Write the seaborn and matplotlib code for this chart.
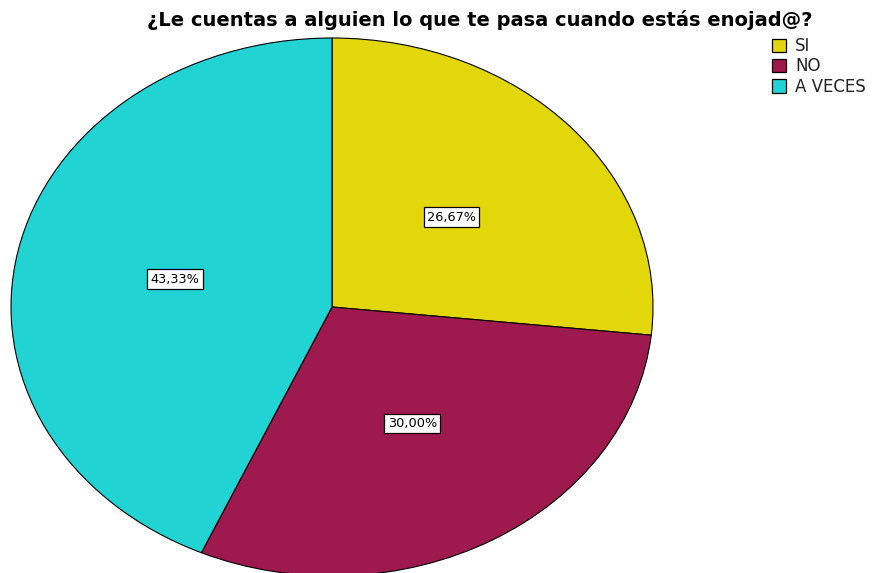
import matplotlib
matplotlib.use("Agg")
import matplotlib.pyplot as plt
import seaborn as sns
import numpy as np
from matplotlib.patches import Patch

categories = ["SI", "NO", "A VECES"]
values = [26.67, 30.00, 43.33]
pct_labels = ["26,67%", "30,00%", "43,33%"]
title = "¿Le cuentas a alguien lo que te pasa cuando estás enojad@?"

sns.set_theme(style="white")
plt.rcParams['font.family'] = ['DejaVu Sans']

colors = sns.color_palette(["#E1D70B", "#9E1A4E", "#22D3D3"])

W, H = 875, 573
fig = plt.figure(figsize=(W / 100, H / 100), dpi=100)
fig.patch.set_facecolor("white")

# axes spanning the ellipse bounding box (pixels)
x0, x1 = 11, 653
ytop, ybot = 38, 576
ax = fig.add_axes([x0 / W, (H - ybot) / H, (x1 - x0) / W, (ybot - ytop) / H])

wedges, _ = ax.pie(values, colors=colors, startangle=90, counterclock=False,
                   wedgeprops=dict(edgecolor="black", linewidth=0.8))
ax.set_aspect("auto")
ax.set_xlim(-1, 1)
ax.set_ylim(-1, 1)
ax.axis("off")

start = 90.0
total = sum(values)
for v, lab in zip(values, pct_labels):
    ang = start - v / total * 360 / 2
    start -= v / total * 360
    r = 0.5
    ax.text(r * np.cos(np.radians(ang)), r * np.sin(np.radians(ang)), lab,
            ha="center", va="center", fontsize=9.3, color="black",
            bbox=dict(boxstyle="square,pad=0.25", facecolor="white",
                      edgecolor="black", linewidth=0.9))

fig.text(480 / W, 1 - 20 / H, title, ha="center", va="center",
         fontsize=14, fontweight="bold", color="black")

handles = [Patch(facecolor=c, edgecolor="black", linewidth=0.9) for c in colors]
leg = fig.legend(handles, categories, loc="upper left",
                 bbox_to_anchor=(772 / W, 1 - 37 / H), frameon=False,
                 fontsize=12, handlelength=0.85, handleheight=0.85,
                 handletextpad=0.55, labelspacing=0.14, borderpad=0.0,
                 borderaxespad=0.0)
for t in leg.get_texts():
    t.set_color("#222222")

fig.savefig("out.png", dpi=100, facecolor="white")
